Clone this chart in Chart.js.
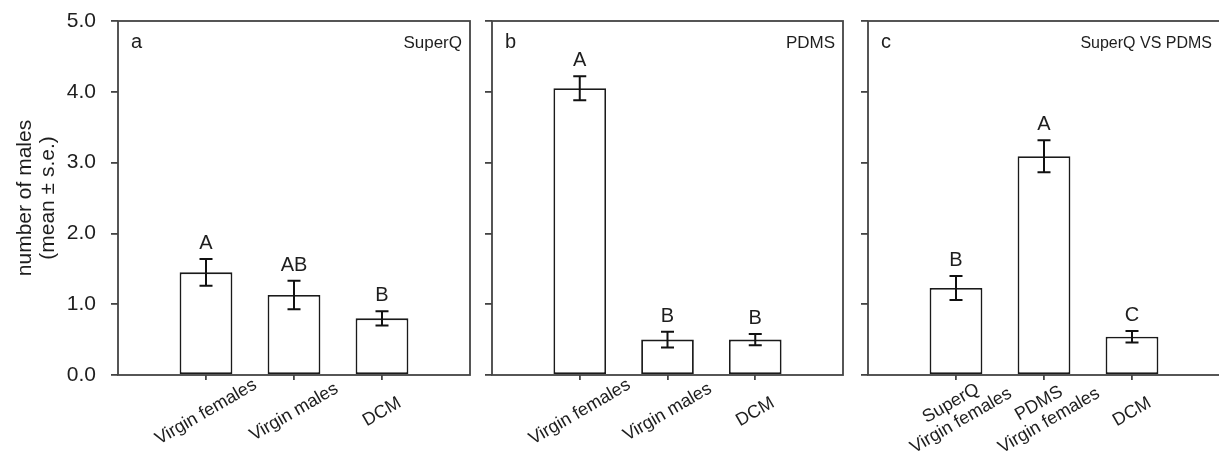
<!DOCTYPE html>
<html>
<head>
<meta charset="utf-8">
<title>Male captures by lure type</title>
<script src="https://cdn.jsdelivr.net/npm/chart.js@4.4.1/dist/chart.umd.min.js"></script>
<style>
    body { margin: 0; background: #fff; overflow: hidden; width: 1219px; height: 455px; position: relative; }
    canvas { position: absolute; top: 0; }
</style>
</head>
<body>
<canvas id="panelA" width="480" height="455" style="left:0px"></canvas>
<canvas id="panelB" width="383" height="455" style="left:470px"></canvas>
<canvas id="panelC" width="367" height="455" style="left:853px"></canvas>
<script>
const FONT = "'Liberation Sans', Arial, Helvetica, sans-serif";
const INK = '#1e1e1e';
const FRAME = '#444';

const yTickValues = [0, 1, 2, 3, 4, 5];
const yTitle = ['number of males', '(mean ± s.e.)'];

// a - SuperQ
const categoriesA = ['Virgin females', 'Virgin males', 'DCM'];
const meansA = [1.45, 1.13, 0.80];
const errorsA = [0.19, 0.20, 0.10];
const lettersA = ['A', 'AB', 'B'];

// b - PDMS
const categoriesB = ['Virgin females', 'Virgin males', 'DCM'];
const meansB = [4.05, 0.50, 0.50];
const errorsB = [0.17, 0.11, 0.08];
const lettersB = ['A', 'B', 'B'];

// c - SuperQ VS PDMS
const categoriesC = [['SuperQ', 'Virgin females'], ['PDMS', 'Virgin females'], 'DCM'];
const meansC = [1.23, 3.09, 0.54];
const errorsC = [0.17, 0.225, 0.08];
const lettersC = ['B', 'A', 'C'];

// draws error bars, group letters, the box frame, panel tags and the slanted category names
function makePanelPlugin(panel) {
    return {
        id: 'panelExtras',
        afterDatasetsDraw(chart) {
            const { ctx, scales: { x, y } } = chart;
            ctx.save();
            ctx.strokeStyle = '#111';
            ctx.lineWidth = 2;
            ctx.fillStyle = INK;
            ctx.font = `20px ${FONT}`;
            ctx.textAlign = 'center';
            ctx.textBaseline = 'alphabetic';
            panel.means.forEach((m, i) => {
                const px = x.getPixelForValue(i + 1);
                const top = y.getPixelForValue(m + panel.errors[i]);
                const bottom = y.getPixelForValue(m - panel.errors[i]);
                ctx.beginPath();
                ctx.moveTo(px, top);
                ctx.lineTo(px, bottom);
                ctx.moveTo(px - 6.5, top);
                ctx.lineTo(px + 6.5, top);
                ctx.moveTo(px - 6.5, bottom);
                ctx.lineTo(px + 6.5, bottom);
                ctx.stroke();
                ctx.fillText(panel.letters[i], px, top - 10);
            });
            ctx.restore();
        },
        afterDraw(chart) {
            const { ctx, chartArea, scales: { x } } = chart;
            const { left, top, right, bottom } = chartArea;
            ctx.save();

            ctx.strokeStyle = FRAME;
            ctx.lineWidth = 1.8;
            ctx.strokeRect(left, top, right - left, bottom - top);

            ctx.fillStyle = INK;
            ctx.textBaseline = 'alphabetic';
            ctx.font = `20px ${FONT}`;
            ctx.textAlign = 'left';
            ctx.fillText(panel.tag, left + 13, top + 27);
            ctx.font = `${panel.titleSize}px ${FONT}`;
            ctx.textAlign = 'right';
            ctx.fillText(panel.title, right - 8, top + 27);

            // category names, rotated about their centre under each tick
            ctx.font = `18px ${FONT}`;
            ctx.textAlign = 'center';
            ctx.textBaseline = 'middle';
            const lineHeight = 20;
            panel.categories.forEach((label, i) => {
                const lines = Array.isArray(label) ? label : [label];
                ctx.save();
                ctx.translate(x.getPixelForValue(i + 1), bottom + 37);
                ctx.rotate(-Math.PI / 6);
                lines.forEach((line, j) => {
                    ctx.fillText(line, 0, (j - (lines.length - 1) / 2) * lineHeight);
                });
                ctx.restore();
            });
            ctx.restore();
        }
    };
}

// keep the plot box exactly where the layout padding puts it
function clearScalePadding(scale) {
    scale.paddingTop = 0;
    scale.paddingBottom = 0;
    scale.paddingLeft = 0;
    scale.paddingRight = 0;
}

function buildPanel(canvasId, panel) {
    const tickGrid = (length) => ({
        display: true,
        offset: false,
        drawOnChartArea: false,
        drawTicks: true,
        tickLength: length,
        color: FRAME,
        lineWidth: 1.8,
    });

    return new Chart(document.getElementById(canvasId), {
        type: 'bar',
        data: {
            datasets: [{
                data: panel.means.map((m, i) => ({ x: i + 1, y: m })),
                backgroundColor: '#fff',
                borderColor: '#1a1a1a',
                borderWidth: 1.8,
                borderSkipped: false,
                barPercentage: 0.6,
                categoryPercentage: 1,
            }],
        },
        options: {
            responsive: false,
            animation: false,
            layout: { padding: { top: 21, right: panel.padRight, left: 0, bottom: 0 } },
            plugins: {
                legend: { display: false },
                tooltip: { enabled: false },
            },
            scales: {
                x: {
                    type: 'linear',
                    offset: false,
                    min: 0,
                    max: panel.categories.length + 1,
                    afterBuildTicks: (scale) => {
                        scale.ticks = panel.categories.map((_, i) => ({ value: i + 1 }));
                    },
                    afterFit: (scale) => {
                        scale.height = 80;
                        clearScalePadding(scale);
                    },
                    ticks: { display: false },
                    grid: tickGrid(5),
                    border: { display: false },
                },
                y: {
                    min: 0,
                    max: 5,
                    afterBuildTicks: (scale) => {
                        scale.ticks = yTickValues.map(v => ({ value: v }));
                    },
                    afterFit: (scale) => {
                        scale.width = panel.axisWidth;
                        clearScalePadding(scale);
                    },
                    ticks: {
                        display: panel.showYLabels,
                        padding: 15,
                        color: INK,
                        font: { family: FONT, size: 21 },
                        callback: v => v.toFixed(1),
                    },
                    grid: tickGrid(7),
                    border: { display: false },
                    title: {
                        display: panel.showYLabels,
                        text: yTitle,
                        color: INK,
                        font: { family: FONT, size: 21, lineHeight: 1.1 },
                        padding: { top: 14, bottom: 0 },
                    },
                },
            },
        },
        plugins: [makePanelPlugin(panel)],
    });
}

buildPanel('panelA', {
    categories: categoriesA, means: meansA, errors: errorsA, letters: lettersA,
    tag: 'a', title: 'SuperQ', titleSize: 17,
    axisWidth: 118, padRight: 10, showYLabels: true,
});

buildPanel('panelB', {
    categories: categoriesB, means: meansB, errors: errorsB, letters: lettersB,
    tag: 'b', title: 'PDMS', titleSize: 17,
    axisWidth: 22, padRight: 10, showYLabels: false,
});

buildPanel('panelC', {
    categories: categoriesC, means: meansC, errors: errorsC, letters: lettersC,
    tag: 'c', title: 'SuperQ VS PDMS', titleSize: 16,
    axisWidth: 15, padRight: 0, showYLabels: false,
});
</script>
</body>
</html>
